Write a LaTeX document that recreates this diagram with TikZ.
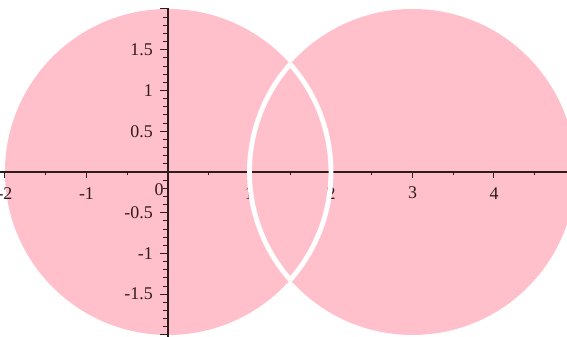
\documentclass[tikz,border=0pt]{standalone}
\usepackage{fontspec}
\setmainfont{Liberation Serif}
\definecolor{diskpink}{RGB}{255,192,203}
\definecolor{axisdark}{RGB}{45,28,28}
\usetikzlibrary{positioning}

\begin{document}
\begin{tikzpicture}[x=2cm,y=2cm,
	axisline/.style={color=axisdark,line width=0.9pt},
	tickline/.style={color=axisdark,line width=0.7pt},
	ticklabel/.style={color=axisdark,font=\fontsize{12.5}{14}\selectfont,inner sep=0.75pt},
	lensline/.style={color=white,line width=3.4pt}]
	\useasboundingbox (-2.061,-2.025) rectangle (4.896,2.11);
	
	% Disks
	\fill [diskpink] (0,0) circle (2);
	\fill [diskpink] (3,0) circle (2);
	
	% Axes
	\draw [axisline] (-2.1,0) -- (4.95,0);
	\draw [axisline] (0,-2.03) -- (0,2.01);
	
	% Ticks on x
	\foreach \x in {-2,...,4}
		\draw [tickline] (\x,0) -- (\x,-0.074);
	\foreach \x in {-1.5,-0.5,...,4.5}
		\draw [tickline] (\x,0) -- (\x,-0.037);
	% Ticks on y
	\foreach \i in {-20,...,20}
		\draw [tickline] (0,\i/10) -- (-0.061,\i/10);
	\foreach \y in {-2,-1.5,...,2}
		\draw [tickline] (0,\y) -- (-0.098,\y);
	
	% Text Nodes on x
	\foreach \x/\t in {-2/-2,-1/-1,1/1,2/2,3/3,4/4}
		\node [ticklabel] (xlab\x) at (\x,-0.26) {\t};
	\node [ticklabel] (zerolab) at (-0.11,-0.22) {0};
	% Text Nodes on y
	\foreach \y/\t in {1.5/1.5,1/1,0.5/0.5,-0.5/-0.5,-1/-1,-1.5/-1.5}
		\node [ticklabel,anchor=east] (ylab\y) at (-0.17,\y) {\t};
	
	% Lens
	\coordinate (lenstop) at (1.5,1.3229);
	\coordinate (lensbot) at (1.5,-1.3229);
	\draw [lensline] (lenstop) arc [start angle=138.59,end angle=221.41,radius=2];
	\draw [lensline] (lensbot) arc [start angle=-41.41,end angle=41.41,radius=2];
	
\end{tikzpicture}
\end{document}
